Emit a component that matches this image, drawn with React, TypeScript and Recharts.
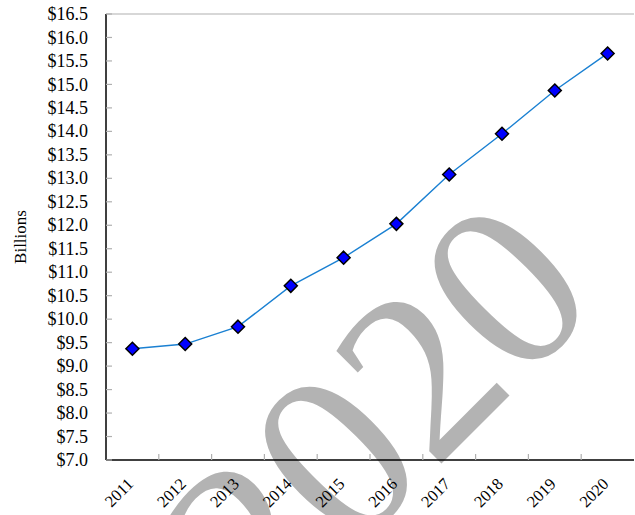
import { LineChart, Line, XAxis, YAxis, ReferenceLine } from "recharts"

const years = ["2011", "2012", "2013", "2014", "2015", "2016", "2017", "2018", "2019", "2020"]
const billions = [9.37, 9.47, 9.84, 10.71, 11.31, 12.03, 13.08, 13.95, 14.87, 15.66]
const yTicks = [7.0, 7.5, 8.0, 8.5, 9.0, 9.5, 10.0, 10.5, 11.0, 11.5, 12.0, 12.5, 13.0, 13.5, 14.0, 14.5, 15.0, 15.5, 16.0, 16.5]
const yLabel = "Billions"
const watermark = "2020"

const FONT = "'Liberation Serif', 'Times New Roman', serif"
const TICK_GRAY = "#b0b0b0"
const Y_GAP = 18

const data = years.map((year, i) => ({ year, value: billions[i] }))

function YTick(props: any) {
  const { x, y, payload } = props
  const axisX = x + Y_GAP
  return (
    <g>
      <line x1={axisX} x2={axisX + 6} y1={y} y2={y} stroke={TICK_GRAY} strokeWidth={1.2} />
      <text x={x} y={y} dy="0.34em" textAnchor="end" fontSize={18} fontFamily={FONT} fill="#000">
        {"$" + Number(payload.value).toFixed(1)}
      </text>
    </g>
  )
}

function XTick(props: any) {
  const { x, y, payload, index, visibleTicksCount } = props
  const half = payload.offset ?? 26.4
  const last = index >= (visibleTicksCount ?? years.length) - 1
  return (
    <g>
      {!last && (
        <line x1={x + half} x2={x + half} y1={y - 6} y2={y} stroke={TICK_GRAY} strokeWidth={1.2} />
      )}
      <text
        x={x + 2}
        y={y + 25}
        textAnchor="end"
        fontSize={16.5}
        fontFamily={FONT}
        fill="#000"
        transform={`rotate(-45 ${x + 2} ${y + 25})`}
      >
        {payload.value}
      </text>
    </g>
  )
}

function Diamond(props: any) {
  const { cx, cy } = props
  if (cx == null || cy == null) return null
  const r = 6.5
  return (
    <polygon
      points={`${cx},${cy - r} ${cx + r},${cy} ${cx},${cy + r} ${cx - r},${cy}`}
      fill="#0000ff"
      stroke="#000"
      strokeWidth={1.5}
    />
  )
}

export default function App() {
  return (
    <div style={{ position: "absolute", left: 0, top: 0, width: 635, height: 515, background: "#fff", overflow: "hidden" }}>
      <svg width={635} height={515} style={{ position: "absolute", left: 0, top: 0 }}>
        <text
          x={434}
          y={471}
          textAnchor="middle"
          fontSize={240}
          fontFamily={FONT}
          fill="#b3b3b3"
          transform="rotate(-45 434 471)"
        >
          {watermark}
        </text>
      </svg>
      <LineChart width={635} height={515} data={data} margin={{ top: 14, right: 1, bottom: 0, left: 0 }}>
        <XAxis
          dataKey="year"
          scale="band"
          height={55}
          tickSize={0}
          tickMargin={0}
          tickLine={false}
          axisLine={{ stroke: "#000", strokeWidth: 1.5 }}
          tick={<XTick />}
          interval={0}
        />
        <YAxis
          width={106}
          domain={[7, 16.5]}
          ticks={yTicks}
          tickSize={0}
          tickMargin={Y_GAP}
          tickLine={false}
          axisLine={{ stroke: "#000", strokeWidth: 1.5 }}
          tick={<YTick />}
          interval={0}
          label={{
            value: yLabel,
            angle: -90,
            position: "insideLeft",
            offset: 20,
            style: { textAnchor: "middle", fontSize: 17, fontFamily: FONT, fill: "#000" },
          }}
        />
        <ReferenceLine y={16.5} stroke={TICK_GRAY} strokeWidth={1.2} />
        <Line
          type="linear"
          dataKey="value"
          stroke="#1a80d2"
          strokeWidth={1.4}
          dot={<Diamond />}
          activeDot={false}
          isAnimationActive={false}
        />
      </LineChart>
    </div>
  )
}
